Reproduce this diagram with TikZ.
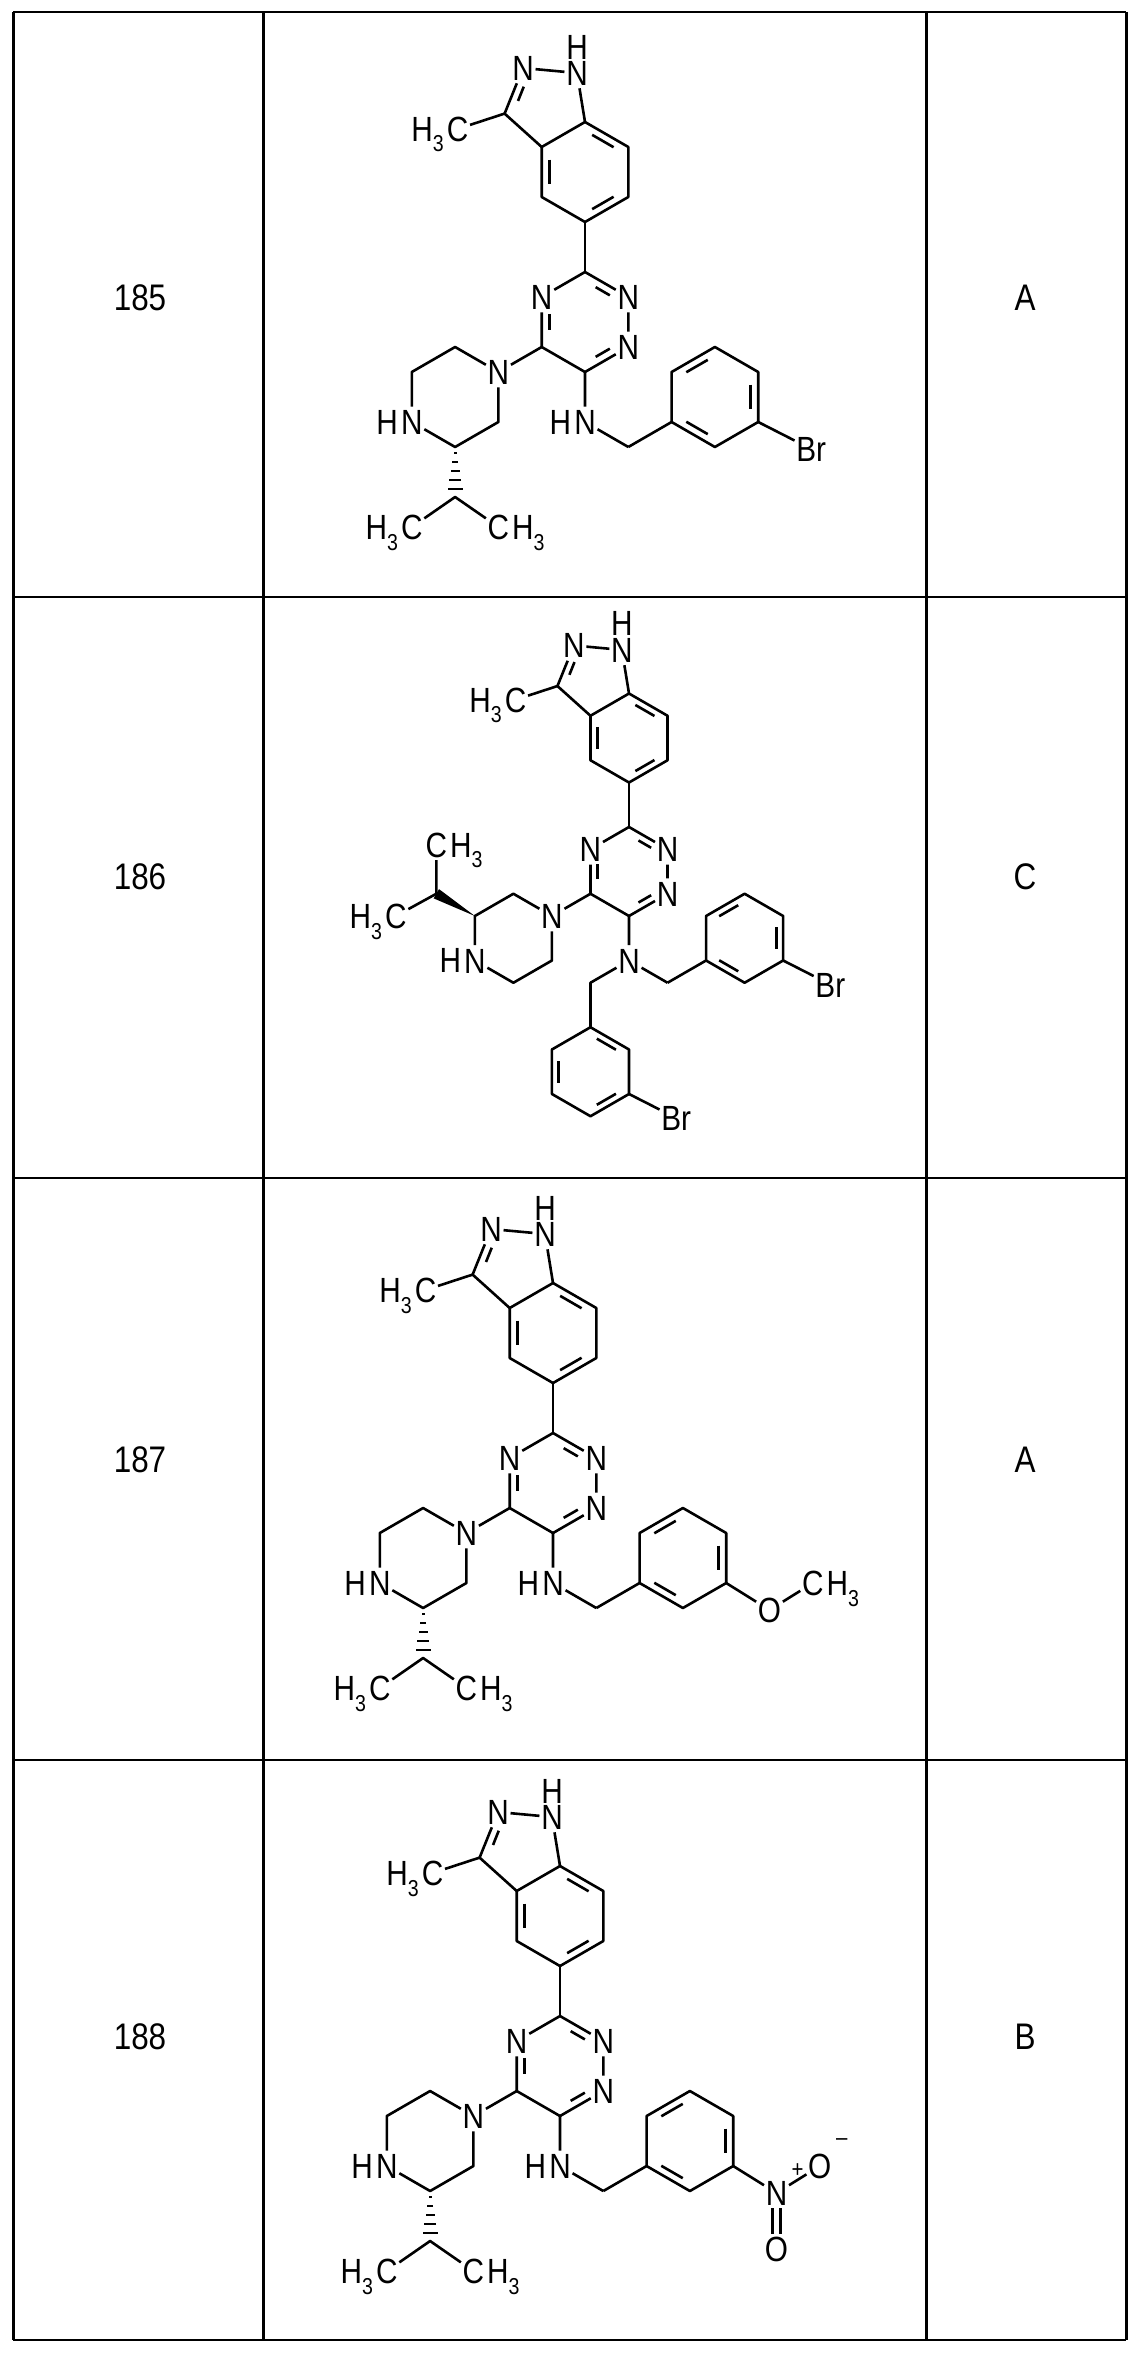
\documentclass[tikz,border=0pt]{standalone}
\usepackage{fontspec}
\setmainfont[FakeStretch=0.85]{Liberation Sans}
\usetikzlibrary{calc}
\newcommand\sbs[1]{\raisebox{-0.3em}{\fontsize{23}{23}\selectfont #1}}
\newcommand\dbin[4][0.2]{\draw ($(#2)!#1!(#3)!8pt!(#4)$) -- ($(#3)!#1!(#2)!8pt!(#4)$);}
\newcommand\hashw[2]{\foreach \t/\w in {0.12/1.5,0.3/3,0.48/4.5,0.66/6,0.84/7.5}{\draw[line width=2pt] ($(#1)!\t!(#2)!\w pt!90:(#2)$) -- ($(#1)!\t!(#2)!\w pt!-90:(#2)$);}}
\newcommand\wedgew[2]{\fill (#1) -- ($(#2)!6pt!90:(#1)$) -- ($(#2)!6pt!-90:(#1)$) -- cycle;}
\newcommand\core{%
 \coordinate (T1) at (0,0);
 \node[atom] (N2) at (43.3,-25) {N};
 \node[atom] (N1) at (43.3,-75) {N};
 \coordinate (C6) at (0,-100);
 \coordinate (C5) at (-43.3,-75);
 \node[atom] (N4) at (-43.3,-25) {N};
 \coordinate (TZc) at (0,-50);
 \draw (T1)--(N2)--(N1)--(C6)--(C5)--(N4)--(T1);
 \dbin[0.3]{T1}{N2}{TZc} \dbin[0.3]{N4}{C5}{TZc} \dbin[0.3]{N1}{C6}{TZc}
 \coordinate (B5) at (0,50);
 \coordinate (B4) at (-43.3,75);
 \coordinate (B3a) at (-43.3,125);
 \coordinate (B7a) at (0,150);
 \coordinate (B7) at (43.3,125);
 \coordinate (B6) at (43.3,75);
 \coordinate (Bc) at (0,100);
 \draw (T1)--(B5);
 \draw (B5)--(B4)--(B3a)--(B7a)--(B7)--(B6)--cycle;
 \dbin{B5}{B6}{Bc} \dbin{B7}{B7a}{Bc} \dbin{B3a}{B4}{Bc}
 \node[atom] (N1p) at (-8,199) {N};
 \node[atom] (N2p) at (-62,204) {N};
 \coordinate (C3) at (-80.4,158.4);
 \coordinate (Pc) at (-38.8,167.3);
 \draw (B7a)--(N1p)--(N2p)--(C3)--(B3a);
 \dbin[0.3]{N2p}{C3}{Pc}
 \node[lbl,anchor=south] (Hp) at ([yshift=-3pt]N1p.north) {H};
 \node[atom] (mC) at (-127.5,143) {C};
 \node[lbl,anchor=base east] (mH) at (mC.base west) {H\sbs{3}};
 \draw (C3)--(mC);
}
\newcommand\pipiso{%
 \node[atom] (pN) at (-86.6,-100) {N};
 \coordinate (p2) at (-129.9,-75);
 \coordinate (p3) at (-173.2,-100);
 \node[atom] (pNH) at (-173.2,-150) {N};
 \node[lbl,anchor=base east] (pH) at (pNH.base west) {H};
 \coordinate (p5) at (-129.9,-175);
 \coordinate (p6) at (-86.6,-150);
 \draw (C5)--(pN)--(p2)--(p3)--(pNH)--(p5)--(p6)--(pN);
 \coordinate (iC) at (-129.9,-225);
 \hashw{p5}{iC}
 \node[atom] (iL) at (-173.2,-255) {C};
 \node[lbl,anchor=base east] (iLH) at (iL.base west) {H\sbs{3}};
 \node[atom] (iR) at (-86.6,-255) {C};
 \node[lbl,anchor=base west] (iRH) at (iR.base east) {H\sbs{3}};
 \draw (iL)--(iC)--(iR);
}
\newcommand\benzR{%
 \coordinate (R0) at (86.6,-150);
 \coordinate (R1) at (86.6,-100);
 \coordinate (Rt) at (129.9,-75);
 \coordinate (R3) at (173.2,-100);
 \coordinate (R2) at (173.2,-150);
 \coordinate (Rb) at (129.9,-175);
 \coordinate (Rc) at (129.9,-125);
 \draw (bC)--(R0);
 \draw (R0)--(R1)--(Rt)--(R3)--(R2)--(Rb)--cycle;
 \dbin{R1}{Rt}{Rc} \dbin{R3}{R2}{Rc} \dbin{Rb}{R0}{Rc}
}
\newcommand\nhbenzyl{%
 \node[atom] (aN) at (0,-150) {N};
 \node[lbl,anchor=base east] (aH) at (aN.base west) {H};
 \coordinate (bC) at (43.3,-175);
 \draw (C6)--(aN)--(bC);
 \benzR
}
\tikzset{
 atom/.style={font=\fontsize{35}{35}\selectfont, inner xsep=0.5pt, inner ysep=1.5pt, text height=25pt, text depth=0pt},
 lbl/.style={font=\fontsize{35}{35}\selectfont, inner sep=0pt},
 num/.style={font=\fontsize{37}{37}\selectfont, inner sep=0pt},
 chg/.style={font=\fontsize{24}{24}\selectfont, inner sep=0pt}
}
\begin{document}
\begin{tikzpicture}[x=1pt,y=1pt,line width=2.6pt,line join=round]
\useasboundingbox (0,0) rectangle (1137,-2357);
\fill[white] (0,0) rectangle (1137,-2357);
% table
\foreach \y in {-12,-597,-1178,-1760,-2340} \draw[line width=1.6pt] (13,\y) -- (1126,\y);
\foreach \x in {13,263,926,1126} \draw[line width=3pt] (\x,-12) -- (\x,-2340);
\node[num] (n185) at (140,-298) {185}; \node[num] (a185) at (1025,-298) {A};
\node[num] (n186) at (140,-877) {186}; \node[num] (a186) at (1025,-877) {C};
\node[num] (n187) at (140,-1460) {187}; \node[num] (a187) at (1025,-1460) {A};
\node[num] (n188) at (140,-2037) {188}; \node[num] (a188) at (1025,-2037) {B};
% 185
\begin{scope}[shift={(585,-272)}]
 \core \pipiso \nhbenzyl
 \node[atom] (Br) at ($(R2)+(53,-27)$) {Br};
 \draw (R2)--(Br);
\end{scope}
% 186
\begin{scope}[shift={(629,-827)},scale=0.89]
 \core
 \node[atom] (pN) at (-86.6,-100) {N};
 \coordinate (p2) at (-129.9,-75);
 \coordinate (p3) at (-173.2,-100);
 \node[atom] (pNH) at (-173.2,-150) {N};
 \node[lbl,anchor=base east] (pH) at (pNH.base west) {H};
 \coordinate (p5) at (-129.9,-175);
 \coordinate (p6) at (-86.6,-150);
 \draw (C5)--(pN)--(p2)--(p3)--(pNH)--(p5)--(p6)--(pN);
 \coordinate (iC) at (-216.5,-75);
 \wedgew{p3}{iC}
 \node[atom] (iT) at (-216.5,-20) {C};
 \node[lbl,anchor=base west] (iTH) at (iT.base east) {H\sbs{3}};
 \node[atom] (iL) at (-262,-100) {C};
 \node[lbl,anchor=base east] (iLH) at (iL.base west) {H\sbs{3}};
 \draw (iT)--(iC)--(iL);
 \node[atom] (aN) at (0,-150) {N};
 \coordinate (bC) at (43.3,-175);
 \draw (C6)--(aN)--(bC);
 \benzR
 \node[atom] (Br) at ($(R2)+(53,-27)$) {Br};
 \draw (R2)--(Br);
 \coordinate (bL) at (-43.3,-175);
 \coordinate (S0) at (-43.3,-225);
 \coordinate (S1) at (0,-250);
 \coordinate (S2) at (0,-300);
 \coordinate (Sb) at (-43.3,-325);
 \coordinate (S4) at (-86.6,-300);
 \coordinate (S5) at (-86.6,-250);
 \coordinate (Sc) at (-43.3,-275);
 \draw (aN)--(bL)--(S0);
 \draw (S0)--(S1)--(S2)--(Sb)--(S4)--(S5)--cycle;
 \dbin{S0}{S1}{Sc} \dbin{S2}{Sb}{Sc} \dbin{S4}{S5}{Sc}
 \node[atom] (Br2) at ($(S2)+(53,-27)$) {Br};
 \draw (S2)--(Br2);
\end{scope}
% 187
\begin{scope}[shift={(553,-1433)}]
 \core \pipiso \nhbenzyl
 \node[atom] (Om) at ($(R2)+(43.3,-27)$) {O};
 \node[atom] (OmC) at ($(Om)+(43.3,27)$) {C};
 \node[lbl,anchor=base west] (OmH) at (OmC.base east) {H\sbs{3}};
 \draw (R2)--(Om)--(OmC);
\end{scope}
% 188
\begin{scope}[shift={(560,-2016)}]
 \core \pipiso \nhbenzyl
 \node[atom] (Nn) at ($(R2)+(43.3,-27)$) {N};
 \node[atom] (On1) at ($(Nn)+(43.3,27)$) {O};
 \node[atom] (On2) at ($(Nn)+(0,-56)$) {O};
 \node[chg] (plus) at ($(Nn)+(21,22)$) {+};
 \node[chg] (minus) at ($(On1)+(22,24)$) {\textendash};
 \draw (R2)--(Nn)--(On1);
 \draw ([xshift=-4pt]Nn.south) -- ([xshift=-4pt]On2.north);
 \draw ([xshift=4pt]Nn.south) -- ([xshift=4pt]On2.north);
\end{scope}
\end{tikzpicture}
\end{document}
